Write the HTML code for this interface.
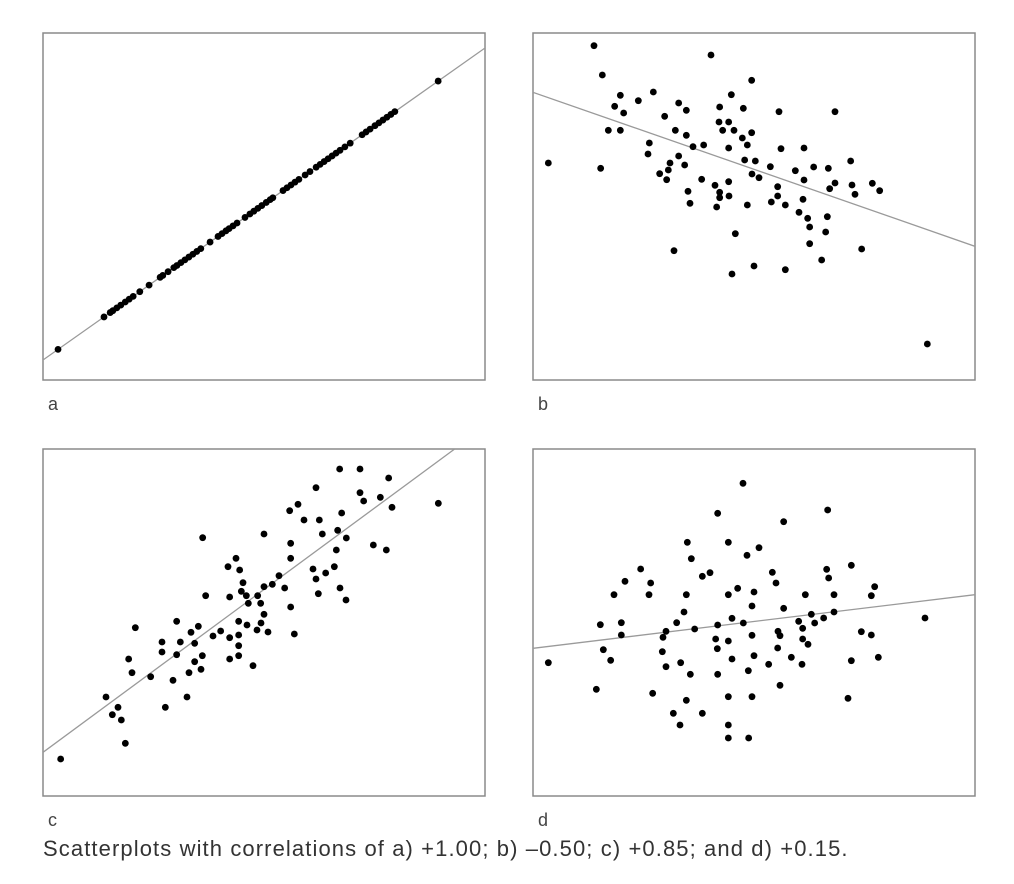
<!DOCTYPE html>
<html><head><meta charset="utf-8"><style>
body{margin:0;background:#fff;width:1014px;height:884px;overflow:hidden;font-family:"Liberation Sans",sans-serif}
svg{position:absolute;left:0;top:0}
.cap{position:absolute;left:43px;top:836px;font-size:22px;letter-spacing:1.1px;color:#333;white-space:nowrap}
</style></head><body>
<svg id="chart" width="1014" height="884"></svg>
<div class="cap">Scatterplots with correlations of a) +1.00; b) –0.50; c) +0.85; and d) +0.15.</div>
<script>
const aX=[3.4,13.8,15.2,15.8,16.7,17.6,18.6,19.5,20.4,21.9,24.0,26.5,27.1,28.3,29.6,30.3,31.2,32.1,33.0,33.9,34.8,35.7,37.8,39.6,40.5,41.4,42.1,43.0,43.9,45.7,46.8,47.7,48.6,49.5,50.5,51.4,52.0,54.3,55.2,56.1,57.0,57.9,59.3,60.4,61.8,62.7,63.6,64.5,65.4,66.3,67.2,68.3,69.5,72.2,73.1,74.0,75.1,76.0,76.9,77.8,78.7,79.6,89.4];
const aY=[3.4,13.8,15.2,15.8,16.7,17.6,18.6,19.5,20.4,21.9,24.0,26.5,27.1,28.3,29.6,30.3,31.2,32.1,33.0,33.9,34.8,35.7,37.8,39.6,40.5,41.4,42.1,43.0,43.9,45.7,46.8,47.7,48.6,49.5,50.5,51.4,52.0,54.3,55.2,56.1,57.0,57.9,59.3,60.4,61.8,62.7,63.6,64.5,65.4,66.3,67.2,68.3,69.5,72.2,73.1,74.0,75.1,76.0,76.9,77.8,78.7,79.6,89.4];
const aLine=[[-5,-5],[110,110]];
const bPts=[[183,38],[534,66],[208,126],[656,142],[262,187],[361,177],[316,203],[595,185],[245,220],[437,210],[460,232],[560,222],[631,226],[272,240],[738,236],[906,236],[395,250],[558,267],[587,267],[226,292],[262,292],[427,292],[569,292],[603,292],[656,299],[460,307],[628,315],[349,330],[480,341],[512,336],[643,336],[587,345],[744,347],[813,345],[345,363],[437,369],[635,381],[667,384],[953,384],[46,390],[411,390],[455,396],[203,406],[712,401],[842,402],[886,406],[787,413],[406,411],[380,422],[657,423],[678,434],[401,440],[506,439],[587,446],[813,441],[906,450],[957,456],[1018,451],[546,457],[734,461],[890,467],[1040,473],[465,475],[560,478],[560,494],[588,489],[734,489],[966,484],[810,499],[715,507],[471,511],[643,516],[757,516],[551,522],[798,538],[824,556],[883,551],[830,582],[878,597],[607,602],[830,632],[423,653],[986,648],[866,681],[663,699],[757,710],[597,723],[1183,933]];
const bLine=[[0,178],[1326,640]];
const cPts=[[890,60],[951,60],[1037,87],[819,116],[951,131],[1012,145],[962,156],[1047,175],[765,166],[740,185],[1186,163],[896,192],[783,213],[829,213],[479,266],[663,255],[884,244],[838,255],[910,267],[743,283],[991,288],[880,303],[1030,303],[579,328],[743,328],[555,353],[590,363],[810,360],[874,353],[848,372],[708,380],[819,390],[600,401],[688,406],[663,413],[725,417],[891,417],[595,427],[488,440],[560,444],[610,440],[644,440],[826,434],[909,453],[616,463],[653,463],[743,474],[663,496],[401,517],[587,517],[277,536],[466,532],[612,528],[654,522],[444,550],[533,546],[510,561],[642,543],[675,549],[754,555],[560,566],[587,558],[357,579],[412,579],[455,583],[357,609],[401,617],[478,620],[587,590],[587,620],[560,630],[257,630],[455,638],[630,650],[474,661],[267,671],[438,671],[323,683],[390,694],[189,744],[432,744],[225,775],[367,775],[208,797],[235,813],[247,883],[53,930]];
const cLine=[[0,910],[1235,0]];
const dPts=[[630,103],[884,183],[554,193],[752,218],[463,280],[586,280],[678,296],[642,319],[475,329],[323,360],[881,361],[955,349],[531,371],[508,382],[718,370],[887,387],[276,397],[353,402],[729,402],[1025,413],[614,418],[663,429],[243,437],[348,437],[460,437],[586,437],[817,437],[903,437],[1015,440],[657,471],[752,478],[453,489],[903,489],[835,496],[872,507],[1176,507],[202,527],[265,521],[431,521],[554,528],[597,508],[631,522],[797,517],[845,522],[485,540],[809,538],[399,547],[390,565],[265,558],[735,547],[741,560],[985,548],[1015,558],[657,559],[548,570],[586,576],[809,570],[825,586],[211,602],[553,599],[734,597],[388,608],[233,634],[46,641],[443,641],[399,653],[597,630],[663,620],[775,625],[707,646],[807,646],[955,635],[1036,625],[472,676],[554,676],[646,665],[741,709],[190,721],[359,733],[460,754],[586,743],[657,743],[945,748],[421,793],[508,793],[441,828],[586,828],[586,867],[647,867]];
const dLine=[[0,598],[1326,437]];

const NS='http://www.w3.org/2000/svg';
const svg=document.getElementById('chart');
function mk(tag,attrs,parent){const e=document.createElementNS(NS,tag);for(const k in attrs)e.setAttribute(k,attrs[k]);(parent||svg).appendChild(e);return e;}
function lin(d0,d1,r0,r1){return v=>r0+(v-d0)/(d1-d0)*(r1-r0);}
function panel(id,left,top,xs,ys,pts,line,label){
  const g=mk('g',{});
  
  
  const cp=mk('clipPath',{id:'clip-'+id},g);
  mk('rect',{x:left,y:top,width:442,height:347},cp);
  const fr=mk('rect',{x:left,y:top,width:442,height:347,fill:'#fff',stroke:'#8a8a8a','stroke-width':1.5},g);
  
  
  const ln=mk('line',{x1:xs(line[0][0]),y1:ys(line[0][1]),x2:xs(line[1][0]),y2:ys(line[1][1]),stroke:'#9a9a9a','stroke-width':1.3,'clip-path':'url(#clip-'+id+')'},g);
  
  
  pts.forEach(p=>{
    const c=mk('circle',{cx:xs(p[0]),cy:ys(p[1]),r:3.4,fill:'#000'},g);
    
    
  });
  const t=mk('text',{x:left+5,y:top+377,'font-size':18,fill:'#444','font-family':'Liberation Sans Narrow, Liberation Sans, sans-serif'},g);
  t.textContent=label;
  
  
}
const aPts=aX.map((v,i)=>[v,aY[i]]);
panel('a',43,33,lin(0,100,43,485),lin(0,100,360,48),aPts,aLine,'a');
function zx(l){return lin(0,1326,l,l+442);}
function zy(t){return lin(0,1041,t,t+347);}
panel('b',533,33,zx(533),zy(33),bPts,bLine,'b');
panel('c',43,449,zx(43),zy(449),cPts,cLine,'c');
panel('d',533,449,zx(533),zy(449),dPts,dLine,'d');
</script>
</body></html>
